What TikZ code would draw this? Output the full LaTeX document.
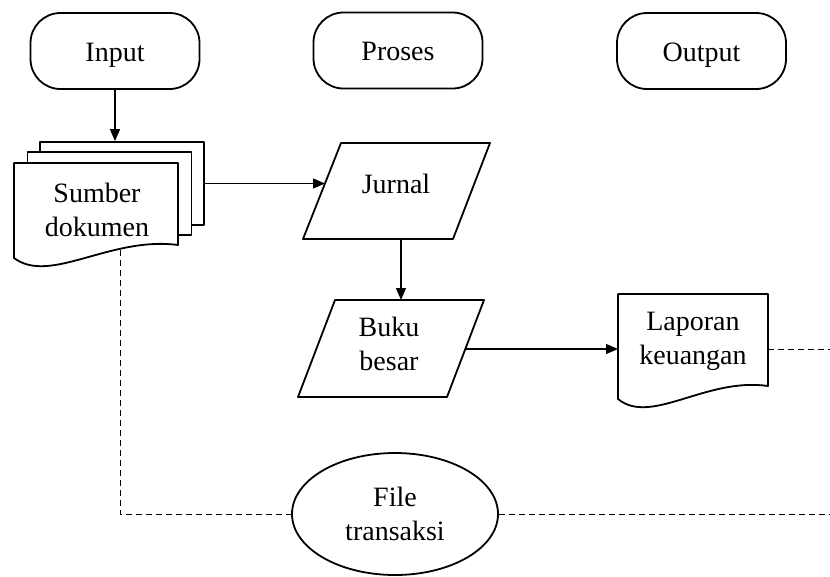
\documentclass[tikz,border=0pt]{standalone}
\usepackage{fontspec}
\setmainfont{Liberation Serif}
\usetikzlibrary{arrows.meta,shapes.geometric,calc}
\begin{document}
\begin{tikzpicture}[x=1pt,y=-1pt,
  font=\fontsize{28}{34.5}\selectfont,
  shp/.style={line width=1.8pt, line join=round},
  term/.style={draw, shp, rounded corners=30pt, minimum width=169pt, minimum height=76pt, text height=20pt, text depth=0pt, inner sep=0pt},
  lbl/.style={align=center, inner sep=0pt},
  sheet/.style={draw, shp, fill=white, minimum width=164pt, minimum height=83pt, inner sep=0pt},
  conn/.style={line width=1.2pt, -{Triangle[length=12pt,width=10pt]}},
  dconn/.style={line width=1pt, dash pattern=on 6pt off 4pt}]

\fill[white] (0,0) rectangle (830,576);
\useasboundingbox (0,0) rectangle (830,576);

% terminators
\node[term] (input) at (115,51) {Input};
\node[term] (proses) at (398,50.5) {Proses};
\node[term] (output) at (701.5,51) {Output};

% source documents (stack)
\node[sheet] (srcback) at (122,183.5) {};
\node[sheet] (srcmid) at (109.5,193.5) {};
\filldraw[shp, fill=white] (14,163) -- (178,163) -- (178,245) .. controls (110,236) and (50,285) .. (14,258) -- cycle;
\node[lbl] (src) at (97,210) {Sumber\\dokumen};
\coordinate (srcS) at (120,250);

% Jurnal
\filldraw[shp, fill=white] (341,143) -- (490,143) -- (453,239) -- (303,239) -- cycle;
\node[lbl, anchor=base] (jurnal) at (396,193) {Jurnal};
\coordinate (jurW) at (325,184);
\coordinate (jurS) at (401,239);

% Buku besar
\filldraw[shp, fill=white] (335,300) -- (484,300) -- (447,397) -- (298,397) -- cycle;
\node[lbl] (buku) at (389,344) {Buku\\besar};
\coordinate (bukuN) at (401,300);
\coordinate (bukuE) at (465,349);

% Laporan keuangan
\filldraw[shp, fill=white] (618,294) -- (768,294) -- (768,386) .. controls (706,377) and (651,426) .. (618,399) -- cycle;
\node[lbl] (lap) at (693,341.5) {Laporan\\keuangan};
\coordinate (lapW) at (618,349);
\coordinate (lapE) at (768,349);
\coordinate (edgeA) at (830,349);

% File transaksi
\node[draw, shp, ellipse, minimum width=206pt, minimum height=122pt, inner sep=0pt, align=center] (file) at (395,514) {File\\transaksi};
\coordinate (edgeB) at (830,514);

% connectors
\draw[conn] (input.south) -- (input.south |- srcback.north);
\draw[conn] (srcback.east) -- (srcback.east -| jurW);
\draw[conn] (jurS) -- (bukuN);
\draw[conn] (bukuE) -- (lapW);
\draw[dconn] (lapE) -- (edgeA);
\draw[dconn] (srcS) |- (file.west);
\draw[dconn] (file.east) -- (file.east -| edgeB);
\end{tikzpicture}
\end{document}
